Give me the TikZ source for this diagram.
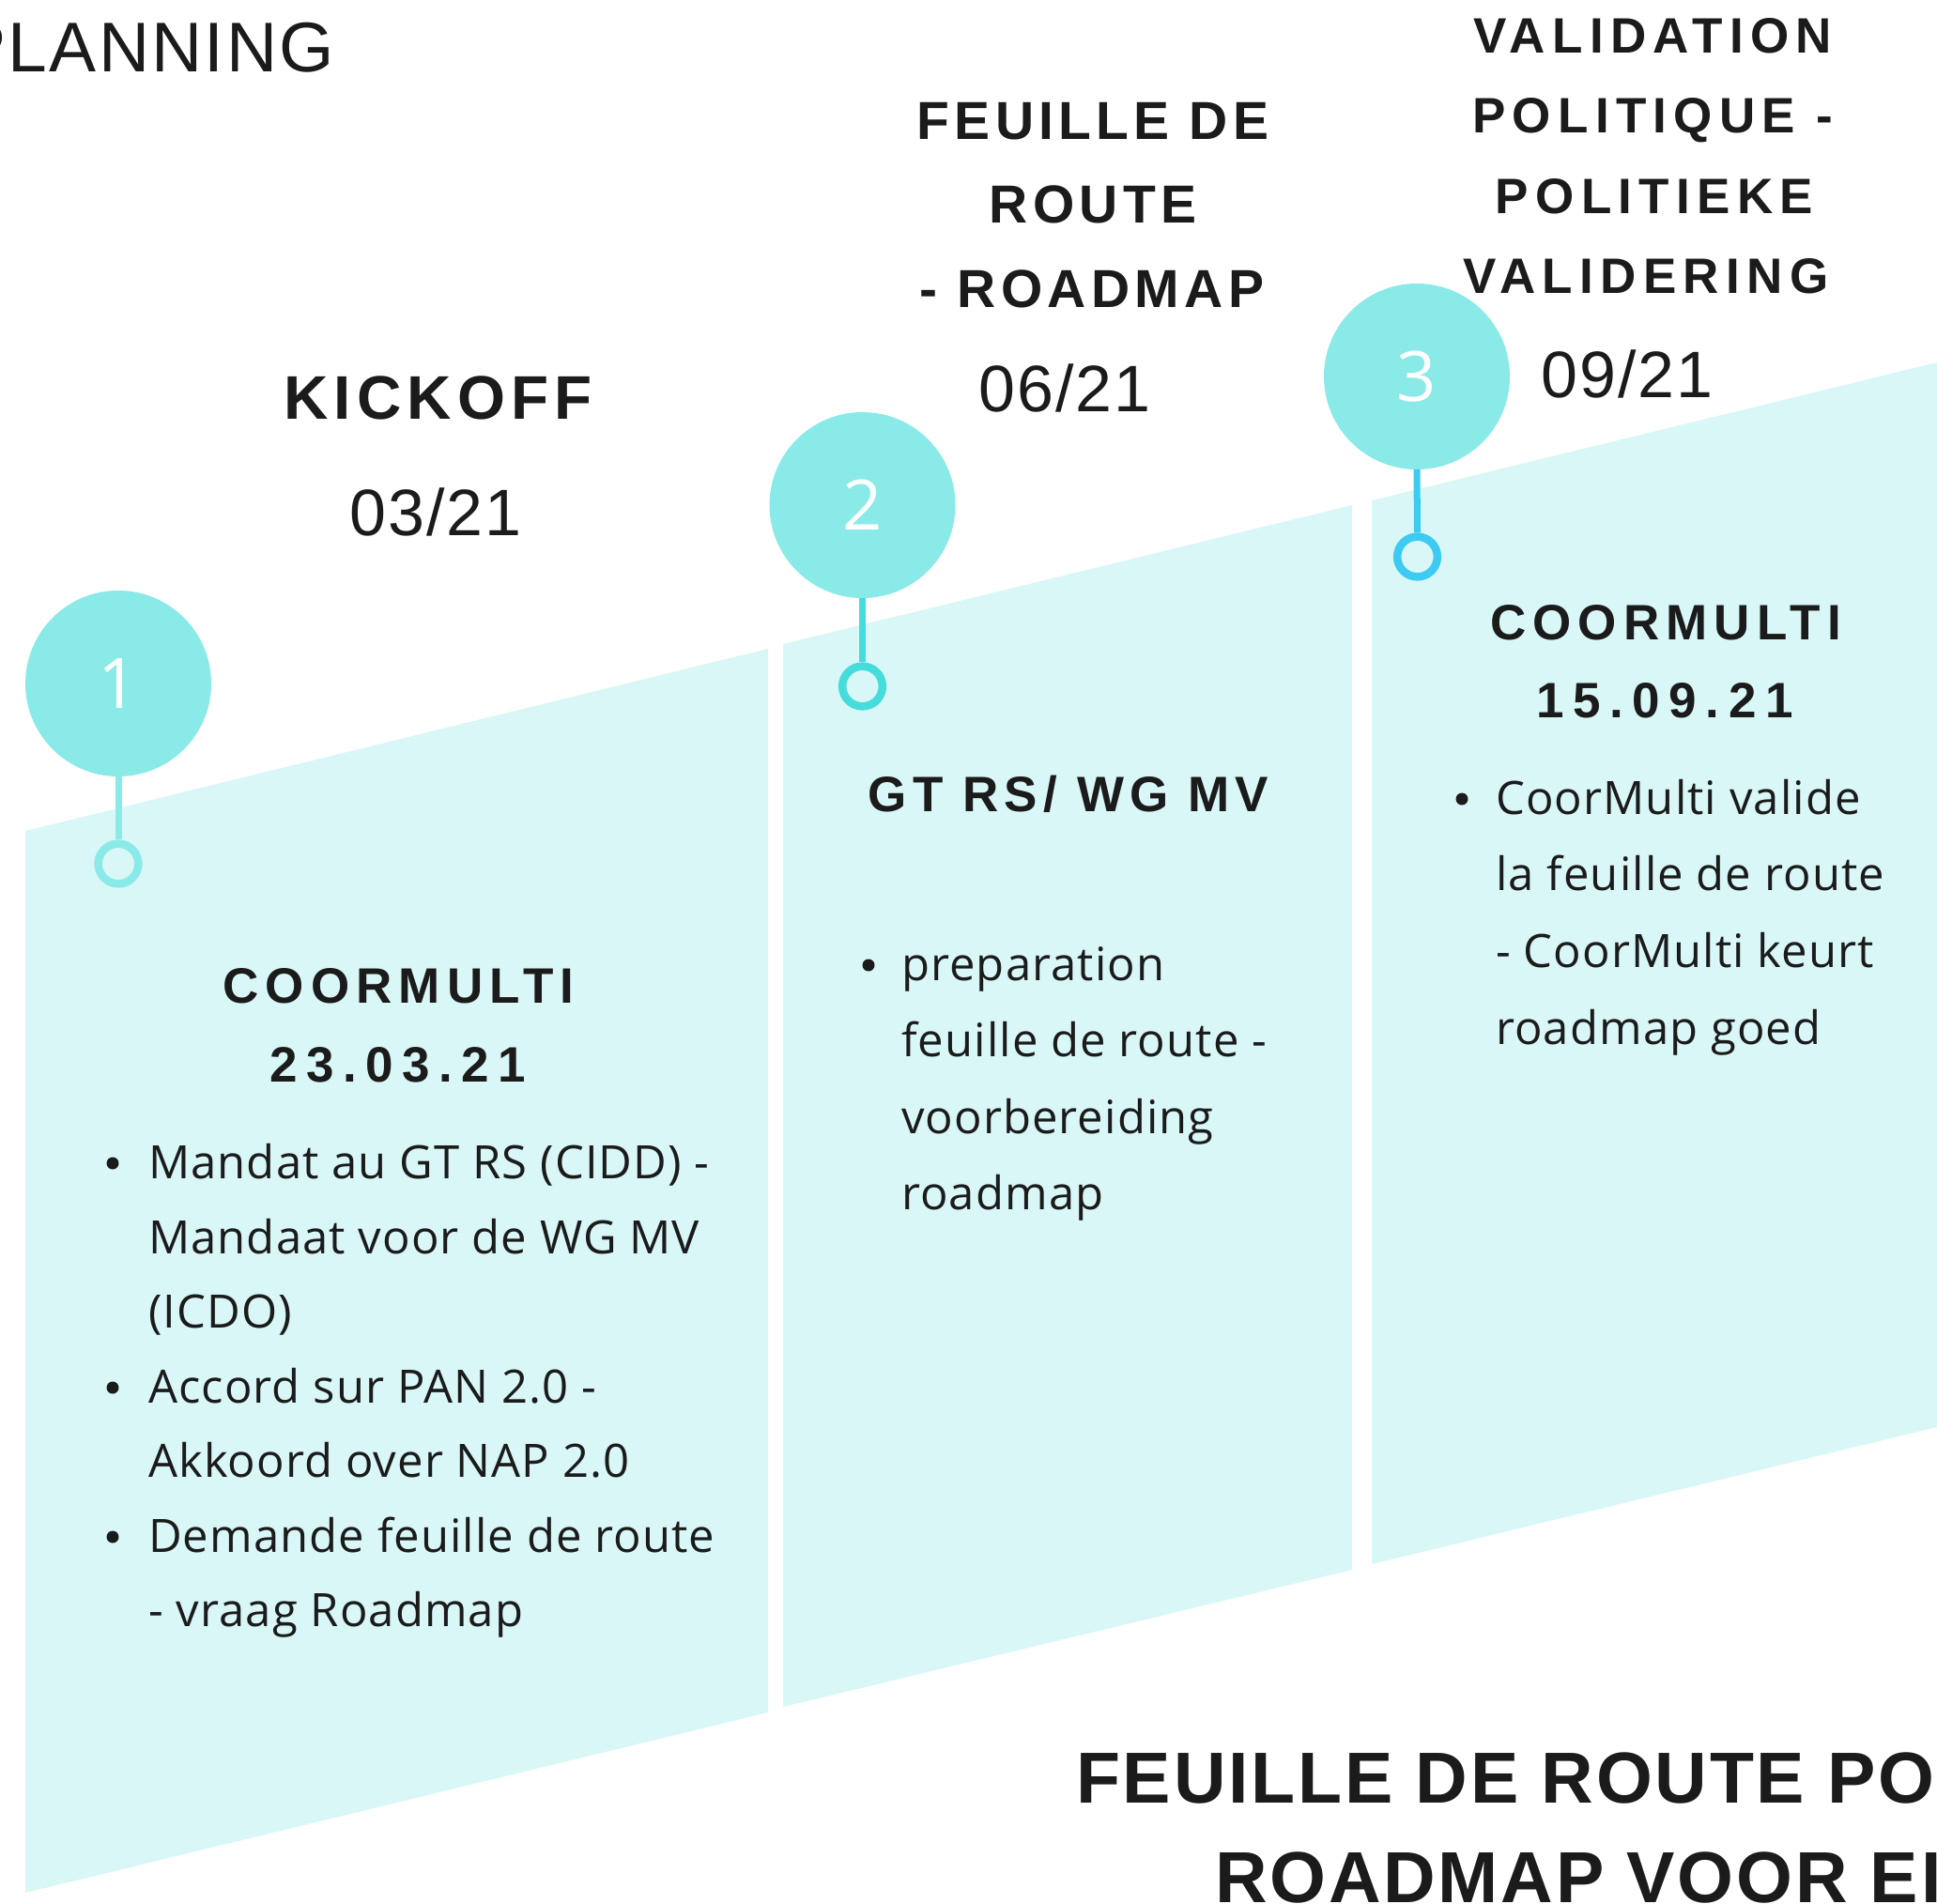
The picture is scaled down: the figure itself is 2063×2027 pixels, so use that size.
\documentclass[tikz,border=0pt]{standalone}
\usepackage{fontspec}
\setmainfont{Liberation Sans}
\newfontfamily\hfam{Liberation Sans}
\newfontfamily\bfam{Open Sans}
\definecolor{ink}{HTML}{1B1B1B}
\definecolor{panelc}{HTML}{D9F7F7}
\definecolor{bigc}{HTML}{8AEAE7}
\definecolor{stemb}{HTML}{45DCDB}
\definecolor{stemc}{HTML}{3DCBF1}
\newcommand\hdf[2]{\hfam\bfseries\fontsize{#1}{#1}\selectfont\addfontfeature{LetterSpace=#2}}
\newcommand\bodyf{\bfam\fontsize{49}{80}\selectfont\addfontfeature{LetterSpace=2.2}}
\begin{document}
\begin{tikzpicture}[x=1pt,y=-1pt,
  panel/.style={fill=panelc,draw=none},
  big/.style={circle,fill=bigc,inner sep=0pt,minimum size=198pt,text=white,font=\bfam\fontsize{74}{74}\selectfont},
  ring/.style={circle,draw=#1,line width=8.5pt,inner sep=0pt,minimum size=42.7pt},
  stem/.style={draw=#1,line width=7pt},
  hd/.style 2 args={font=\hdf{#1}{#2},anchor=base,inner sep=0pt,text=ink},
  dt/.style={font=\hfam\fontsize{70}{70}\selectfont\addfontfeature{LetterSpace=3},anchor=base,inner sep=0pt,text=ink},
  body/.style={font=\bodyf,anchor=base west,inner sep=0pt,text=ink},
  bul/.style={circle,fill=ink,inner sep=0pt,minimum size=13pt},
  ttl/.style={font=\hdf{77}{3.6},anchor=base west,inner sep=0pt,text=ink}]
\useasboundingbox (0,0) rectangle (2063,2027);
\clip (0,0) rectangle (2063,2027);
% panels
\fill[panel] (27,885) -- (818,691) -- (818,1824) -- (27,2016) -- cycle;
\fill[panel] (834,686) -- (1440,538) -- (1440,1672) -- (834,1818) -- cycle;
\fill[panel] (1461,533) -- (2063,386) -- (2063,1520) -- (1461,1666) -- cycle;
% markers
\node[big] (c1) at (126,728) {1};
\node[ring=bigc] (r1) at (126,920) {};
\draw[stem=bigc] (c1.south) -- (r1.north);
\node[big] (c2) at (918.5,538) {2};
\node[ring=stemb] (r2) at (918.5,731) {};
\draw[stem=stemb] (c2.south) -- (r2.north);
\node[big] (c3) at (1509,401) {3};
\node[ring=stemc] (r3) at (1509.5,593) {};
\draw[stem=stemc] (c3.south) -- (r3.north);
% top titles
\node[font=\hfam\fontsize{75}{75}\selectfont\addfontfeature{LetterSpace=3},anchor=base east,inner sep=0pt,text=ink] (plan) at (356,76) {PLANNING};
\node[hd={65.6}{9.2}] (kick) at (466.5,446) {KICKOFF};
\node[dt] (d1) at (464,570) {03/21};
\node[hd={57}{9.3}] (f1) at (1164,148) {FEUILLE DE};
\node[hd={57}{9.3}] (f2) at (1164,237) {ROUTE};
\node[hd={57}{9.3}] (f3) at (1163,327) {- ROADMAP};
\node[dt] (d2) at (1134,438) {06/21};
\node[hd={53}{13.8}] (v1) at (1760,56) {VALIDATION};
\node[hd={53}{13.8}] (v2) at (1760,141) {POLITIQUE -};
\node[hd={53}{13.8}] (v3) at (1762,227) {POLITIEKE};
\node[hd={53}{13.8}] (v4) at (1753,312) {VALIDERING};
\node[dt] (d3) at (1733,423) {09/21};
% panel 1
\node[hd={53}{13.4}] (h1a) at (424.5,1068) {COORMULTI};
\node[hd={53}{18}] (h1b) at (424,1152) {23.03.21};
\node[bul] (b11) at (120,1239) {};
\node[body] (l11) at (158,1255) {Mandat au GT RS (CIDD) -};
\node[body] (l12) at (158,1335) {Mandaat voor de WG MV};
\node[body] (l13) at (158,1414) {(ICDO)};
\node[bul] (b12) at (120,1478) {};
\node[body] (l14) at (158,1494) {Accord sur PAN 2.0 -};
\node[body] (l15) at (158,1573) {Akkoord over NAP 2.0};
\node[bul] (b13) at (120,1637) {};
\node[body] (l16) at (158,1653) {Demande feuille de route};
\node[body] (l17) at (158,1732) {- vraag Roadmap};
% panel 2
\node[hd={53}{11.6}] (h2) at (1138,864) {GT RS/ WG MV};
\node[bul] (b21) at (925,1028) {};
\node[body] (l21) at (960,1044) {preparation};
\node[body] (l22) at (960,1125) {feuille de route -};
\node[body] (l23) at (960,1207) {voorbereiding};
\node[body] (l24) at (960,1288) {roadmap};
% panel 3
\node[hd={53}{13.4}] (h3a) at (1774,681) {COORMULTI};
\node[hd={53}{18}] (h3b) at (1773,764) {15.09.21};
\node[bul] (b31) at (1557,851) {};
\node[body] (l31) at (1593,867) {CoorMulti valide};
\node[body] (l32) at (1593,948) {la feuille de route};
\node[body] (l33) at (1593,1030) {- CoorMulti keurt};
\node[body] (l34) at (1593,1112) {roadmap goed};
% bottom title
\node[ttl] (t1) at (1146,1920) {FEUILLE DE ROUTE PO};
\node[ttl] (t2) at (1294,2026) {ROADMAP VOOR EI};
\end{tikzpicture}
\end{document}
